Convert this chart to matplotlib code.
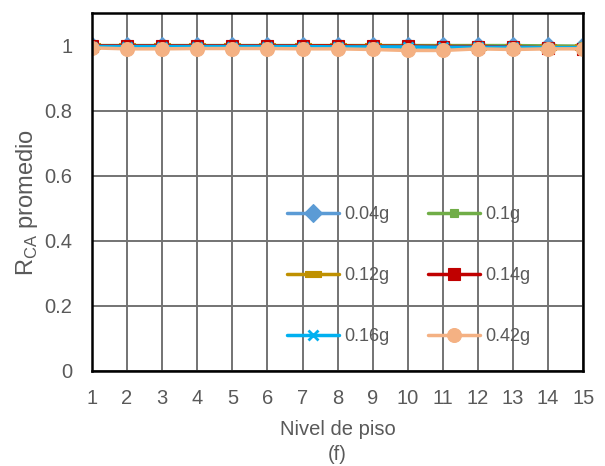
import numpy as np
import matplotlib
matplotlib.use("Agg")
import matplotlib.pyplot as plt

plt.rcParams["font.family"] = ["Liberation Sans", "DejaVu Sans"]

# nivel de piso
pisos = np.arange(1, 16)

# R_CA promedio por intensidad
r_004 = [1.0, 1.0, 1.0, 1.0, 1.0, 1.0, 1.0, 1.0, 1.0, 1.0, 1.0, 1.0, 1.0, 1.0, 1.0]
r_010 = [1.0, 1.0, 1.0, 1.0, 1.0, 1.0, 1.0, 1.0, 1.0, 1.0, 1.0, 1.0, 1.0, 0.999, 0.998]
r_012 = [0.998, 0.998, 0.998, 0.998, 0.998, 0.998, 0.998, 0.998, 0.998, 0.997, 0.997, 0.997, 0.996, 0.995, 0.995]
r_014 = [0.999, 0.999, 0.999, 0.999, 0.999, 0.999, 0.999, 0.999, 0.998, 0.998, 0.997, 0.997, 0.996, 0.993, 0.991]
r_016 = [0.997, 0.997, 0.997, 0.997, 0.997, 0.997, 0.997, 0.996, 0.996, 0.996, 0.995, 0.995, 0.995, 0.994, 0.994]
r_042 = [0.993, 0.990, 0.990, 0.991, 0.991, 0.991, 0.990, 0.990, 0.988, 0.985, 0.985, 0.990, 0.988, 0.990, 0.990]

etiquetas = ["0.04g", "0.1g", "0.12g", "0.14g", "0.16g", "0.42g"]
colores = ["#5B9BD5", "#70AD47", "#BF9000", "#C00000", "#00B0F0", "#F4B183"]

# marcador tipo "guion" (rectángulo ancho)
guion = [(-1, -0.45), (1, -0.45), (1, 0.45), (-1, 0.45), (-1, -0.45)]

fig = plt.figure(figsize=(6.05, 4.66), dpi=100)
ax = fig.add_axes([0.152, 0.204, 0.812, 0.768])

series = [r_004, r_010, r_012, r_014, r_016, r_042]
marcas = [("D", 9), ("s", 6), (guion, 11), ("s", 9), ("x", 7), ("o", 10)]
lineas = []
for vals, lab, col, (mk, ms) in zip(series, etiquetas, colores, marcas):
    ln, = ax.plot(pisos, vals, color=col, lw=2.5, marker=mk, markersize=ms,
                  markeredgewidth=2 if mk == "x" else 0.8, markeredgecolor=col,
                  label=lab, solid_capstyle="round")
    lineas.append(ln)

ax.set_xlim(1, 15)
ax.set_ylim(0, 1.1)
ax.set_xticks(pisos)
ax.set_yticks([0, 0.2, 0.4, 0.6, 0.8, 1.0])
ax.set_yticklabels(["0", "0.2", "0.4", "0.6", "0.8", "1"])
ax.grid(True, color="#737373", lw=1.4)
ax.set_axisbelow(True)
for s in ax.spines.values():
    s.set_color("black")
    s.set_linewidth(1.8)
ax.tick_params(length=0, labelsize=14.5, labelcolor="#595959")
ax.tick_params(axis="x", pad=13)
ax.tick_params(axis="y", pad=14)

ax.set_ylabel(r"R$_{\mathregular{CA}}$ promedio", fontsize=17, color="#595959",
              labelpad=3, y=0.47)
ax.set_xlabel("Nivel de piso\n(f)", fontsize=14.5, color="#595959", labelpad=9, linespacing=1.35)

# leyenda en dos columnas, llenada por filas
orden = [0, 2, 4, 1, 3, 5]
leg = ax.legend([lineas[i] for i in orden], [etiquetas[i] for i in orden],
                ncol=2, frameon=False, fontsize=13, labelcolor="#595959",
                handlelength=2.9, handletextpad=0.3, columnspacing=2.1,
                labelspacing=2.45, borderpad=0, borderaxespad=0,
                loc="upper left", bbox_to_anchor=(0.474, 0.558),
                bbox_transform=fig.transFigure)

fig.savefig("out.png", dpi=100)
